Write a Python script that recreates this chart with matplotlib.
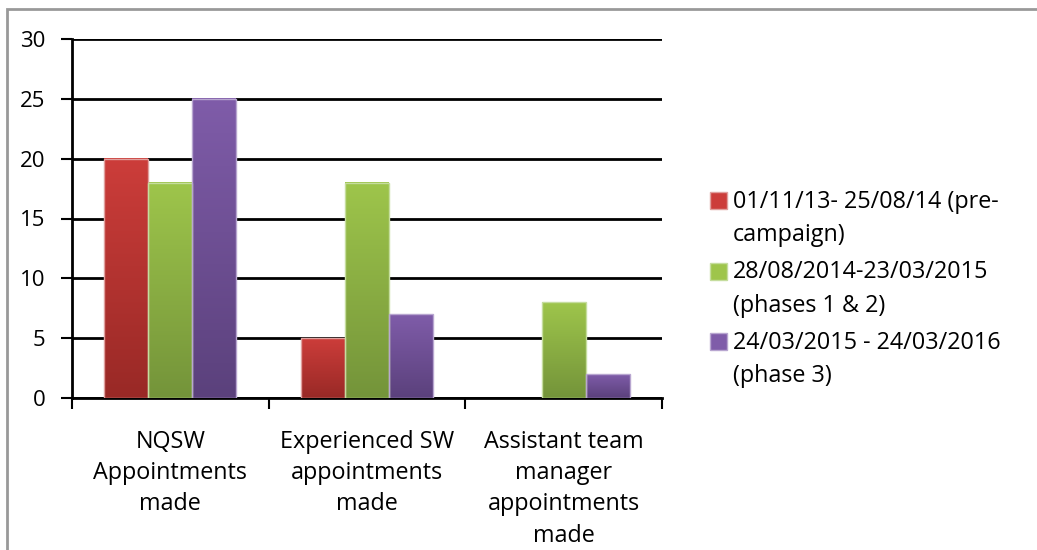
import numpy as np
import matplotlib
matplotlib.use("Agg")
import matplotlib.pyplot as plt
from matplotlib.colors import LinearSegmentedColormap
from matplotlib.patches import Rectangle

categories = ["NQSW\nAppointments\nmade",
              "Experienced SW\nappointments\nmade",
              "Assistant team\nmanager\nappointments\nmade"]
series_names = ["01/11/13- 25/08/14 (pre-\ncampaign)",
                "28/08/2014-23/03/2015\n(phases 1 & 2)",
                "24/03/2015 - 24/03/2016\n(phase 3)"]
pre_campaign = [20, 5, 0]
phases_1_2 = [18, 18, 8]
phase_3 = [25, 7, 2]
yticks = [0, 5, 10, 15, 20, 25, 30]

top_colors = ["#CC3D3A", "#9EC54B", "#7F5CA9"]
bot_colors = ["#992926", "#74943A", "#5B417C"]
edge_colors = ["#E0A09E", "#C5DD9E", "#B8A6D0"]

plt.rcParams['font.family'] = ['Open Sans', 'DejaVu Sans']
FS = 16
FSL = 16.8
W, H = 1037, 550
fig = plt.figure(figsize=(W/100, H/100), dpi=100)
ax = fig.add_axes([72/W, 1-398/H, (662-72)/W, (398-39)/H])

x = np.arange(len(categories))
bw = 44/197
all_series = [pre_campaign, phases_1_2, phase_3]
ax.set_xlim(-0.5, 2.5)
ax.set_ylim(0, 30)

grad = np.linspace(0, 1, 100).reshape(-1, 1)
cmaps = [LinearSegmentedColormap.from_list(f"g{i}", [bot_colors[i], top_colors[i]])
         for i in range(3)]
for i, vals in enumerate(all_series):
    bars = ax.bar(x + (i-1)*bw, vals, width=bw, color='none', edgecolor='none', zorder=3)
    for b in bars:
        h = b.get_height()
        if h <= 0:
            continue
        x0 = b.get_x(); w = b.get_width()
        ax.imshow(grad, cmap=cmaps[i], origin='lower', aspect='auto',
                  extent=[x0, x0+w, 0, h], zorder=3)
        ax.add_patch(Rectangle((x0, 0), w, h, fill=False, edgecolor=edge_colors[i],
                               linewidth=1.0, zorder=4))

ax.set_xlim(-0.5, 2.5)
ax.set_ylim(0, 30)
ax.set_yticks(yticks)
ax.set_yticklabels([str(t) for t in yticks], fontsize=FS)
ax.yaxis.grid(True, color='black', linewidth=2, zorder=1)
ax.set_axisbelow(True)
ax.set_xticks([-0.5, 0.5, 1.5, 2.5], minor=False)
ax.set_xticklabels([])
ax.set_xticks(x, minor=True)
ax.set_xticklabels(categories, minor=True, fontsize=FSL, linespacing=1.40, va='top')
ax.tick_params(axis='x', which='minor', length=0, pad=23)
ax.tick_params(axis='x', which='major', length=8, width=1.5, direction='out')
ax.tick_params(axis='y', length=8, width=1.5, pad=11)
for s in ['top', 'right']:
    ax.spines[s].set_visible(False)
for s in ['left', 'bottom']:
    ax.spines[s].set_linewidth(2)

# legend drawn manually (square aligned with first text line)
base0, line_step, entry_step = 208, 33, 70.5
for i, name in enumerate(series_names):
    yb = base0 + i*entry_step
    sq = 17
    fig.add_artist(Rectangle((710/W, 1-(yb-16+sq)/H), sq/W, sq/H, transform=fig.transFigure,
                             facecolor=top_colors[i], edgecolor=edge_colors[i], linewidth=1))
    for j, line in enumerate(name.split("\n")):
        fig.text(733/W, 1-(yb + j*line_step)/H, line, fontsize=FSL, ha='left', va='baseline')

fig.add_artist(Rectangle((7/W, -0.1), 1.2, 1.1 - 9/H, transform=fig.transFigure,
                         fill=False, edgecolor='#999999', linewidth=2))

fig.savefig("out.png", dpi=100)
